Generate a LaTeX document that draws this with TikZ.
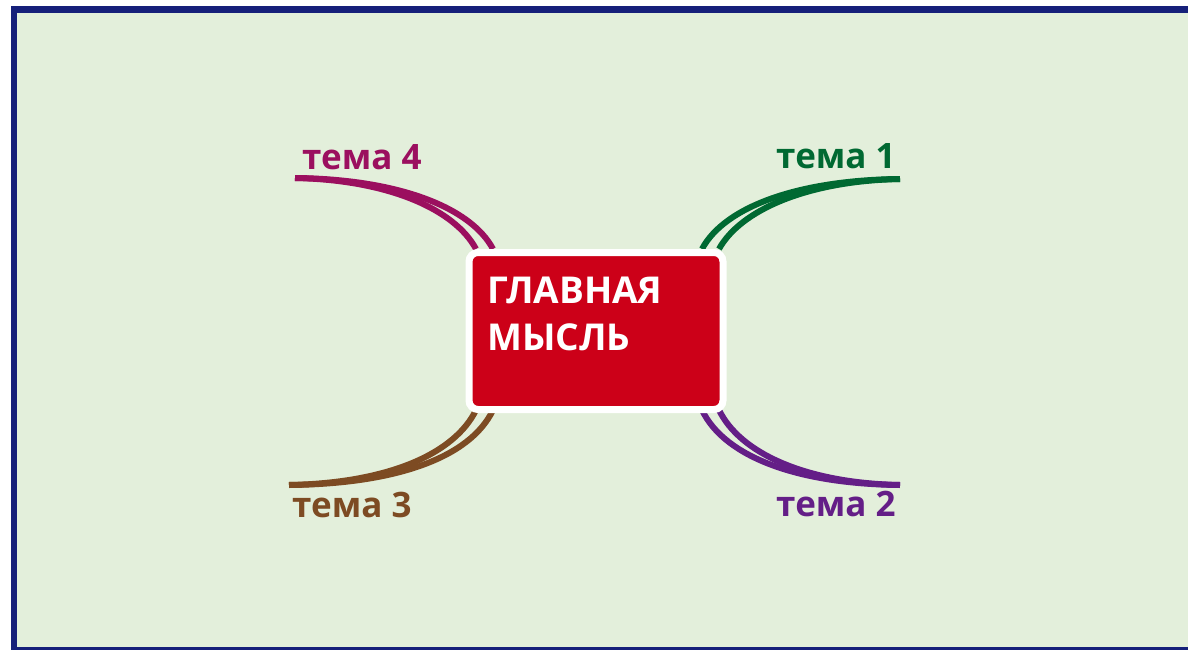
\documentclass[tikz,border=0pt]{standalone}
\usepackage{fontspec}
\setmainfont{Open Sans}
\usepackage{tikz}

\definecolor{bgreen}{RGB}{227,239,219}
\definecolor{navy}{RGB}{22,32,122}
\definecolor{ideared}{RGB}{204,0,24}
\definecolor{cgreen}{RGB}{0,105,50}
\definecolor{cpurple}{RGB}{100,30,135}
\definecolor{cbrown}{RGB}{125,75,35}
\definecolor{cmagenta}{RGB}{155,15,95}

\tikzset{
  branch/.style={line width=6pt},
  topic/.style={anchor=base west, inner sep=0pt, font=\bfseries\fontsize{35}{42}\selectfont},
}

\begin{document}
\begin{tikzpicture}[x=1pt,y=-1pt]
\useasboundingbox (0,0) rectangle (1188,650);
\fill[white] (0,0) rectangle (1188,650);
\fill[bgreen] (14,10) rectangle (1188,648);
\draw[navy,line width=7pt] (11,10) -- (1188,10);
\draw[navy,line width=6pt] (14,7) -- (14,650);
\draw[navy,line width=4pt] (11,649) -- (1188,649);

\coordinate (E1) at (900,179);
\coordinate (A1) at (702,249);
\coordinate (B1) at (719,249);
\coordinate (E2) at (900,485);
\coordinate (A2) at (702,410);
\coordinate (B2) at (719,410);
\coordinate (E3) at (289,485);
\coordinate (A3) at (476,410);
\coordinate (B3) at (493,410);
\coordinate (E4) at (295,178);
\coordinate (A4) at (476,249);
\coordinate (B4) at (493,249);

\draw[branch,cgreen] (E1) .. controls (805,181) and (740,211) .. (B1);
\draw[branch,cgreen] (E1) .. controls (800,180) and (725,206) .. (A1);
\draw[branch,cpurple] (E2) .. controls (805,483) and (740,453) .. (B2);
\draw[branch,cpurple] (E2) .. controls (800,484) and (725,458) .. (A2);
\draw[branch,cbrown] (E3) .. controls (390,483) and (455,453) .. (A3);
\draw[branch,cbrown] (E3) .. controls (395,484) and (470,458) .. (B3);
\draw[branch,cmagenta] (E4) .. controls (390,180) and (455,210) .. (A4);
\draw[branch,cmagenta] (E4) .. controls (395,179) and (470,206) .. (B4);

\node[draw=white,line width=7pt,fill=ideared,rounded corners=9pt,
  minimum width=254pt,minimum height=157pt] (main) at (596,331) {};
\node[anchor=north west,inner sep=0pt,align=left,text=white,
  font=\bfseries\fontsize{37}{47}\selectfont] (idea) at (487,277) {ГЛАВНАЯ\\МЫСЛЬ};

\node[topic,text=cgreen] (t1) at (776,168) {тема 1};
\node[topic,text=cpurple] (t2) at (776,516) {тема 2};
\node[topic,text=cbrown] (t3) at (292,517) {тема 3};
\node[topic,text=cmagenta] (t4) at (302,169) {тема 4};
\end{tikzpicture}
\end{document}
